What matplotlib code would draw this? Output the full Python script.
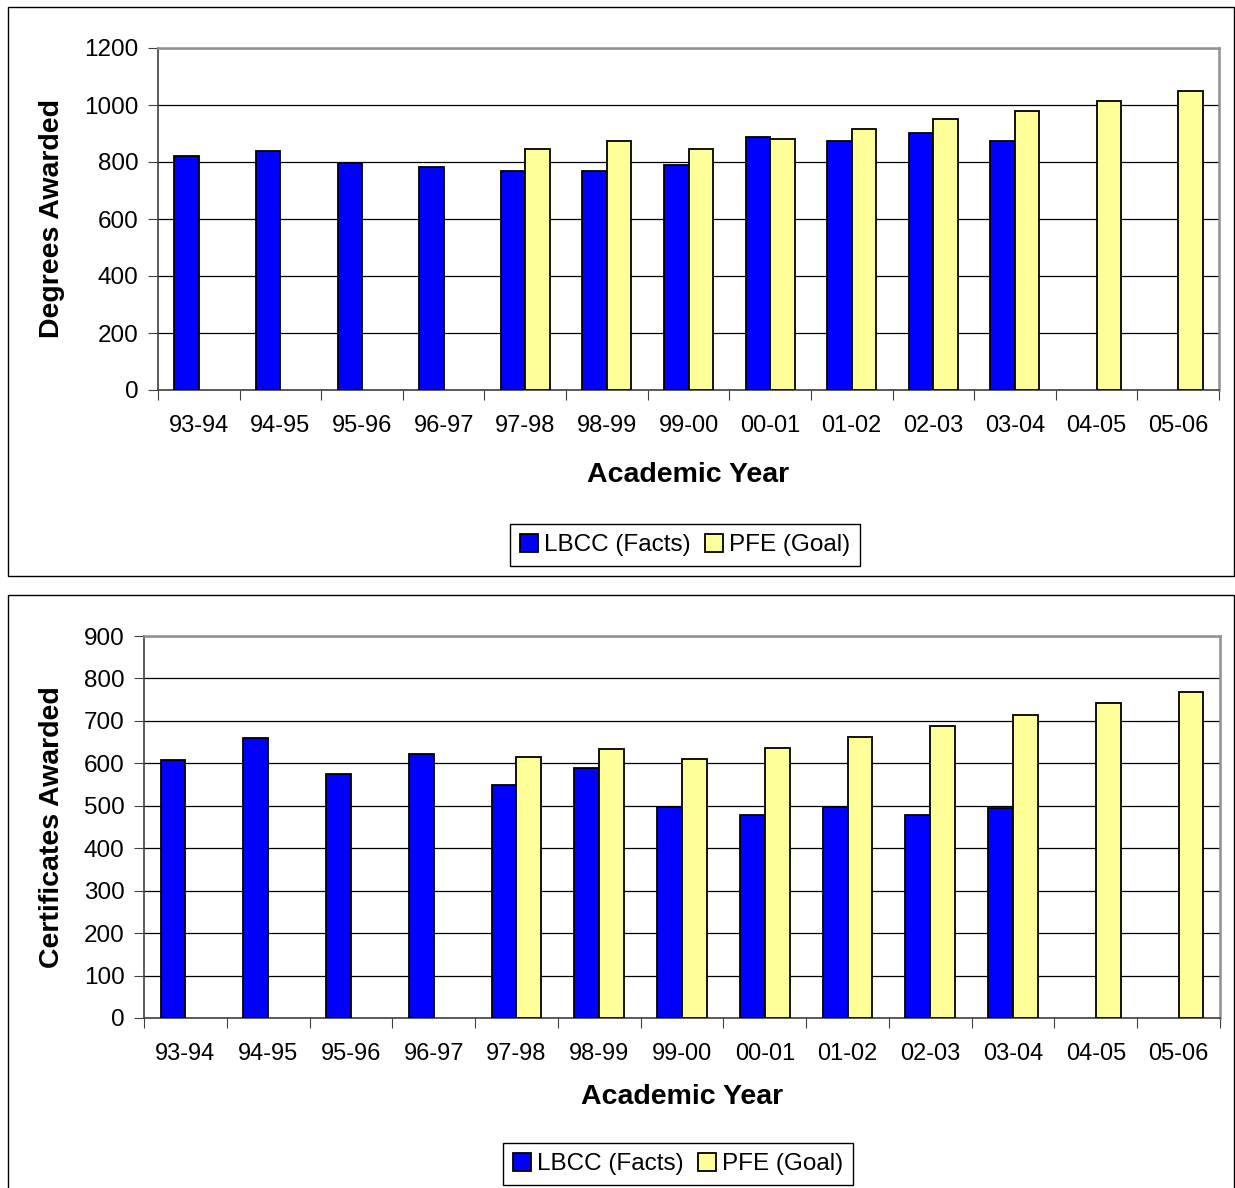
import numpy as np
import matplotlib.pyplot as plt
from matplotlib.patches import Rectangle

plt.rcParams['font.family'] = ['Liberation Sans', 'DejaVu Sans']

# data
years = ['93-94', '94-95', '95-96', '96-97', '97-98', '98-99', '99-00',
         '00-01', '01-02', '02-03', '03-04', '04-05', '05-06']
nan = np.nan
degrees_lbcc = [822, 838, 796, 783, 767, 767, 790, 886, 873, 901, 873, nan, nan]
degrees_pfe = [nan, nan, nan, nan, 845, 872, 845, 880, 917, 952, 980, 1013, 1048]
certs_lbcc = [609, 660, 576, 621, 550, 589, 497, 479, 498, 479, 494, nan, nan]
certs_pfe = [nan, nan, nan, nan, 614, 634, 611, 636, 662, 688, 713, 741, 768]

W, H = 1235, 1188
fig = plt.figure(figsize=(W / 100, H / 100), dpi=100)

# panel borders
fig.patches.append(Rectangle((8 / W, 1 - 576 / H), 1226 / W, 569 / H,
                             transform=fig.transFigure, fill=False,
                             edgecolor='black', linewidth=1.0))
fig.patches.append(Rectangle((8 / W, 1 - 1190 / H), 1226 / W, 595 / H,
                             transform=fig.transFigure, fill=False,
                             edgecolor='black', linewidth=1.0))


def draw(rect, lbcc, pfe, ymax, ystep, ylabel, xlab_y, ylab_x, leg_xy):
    ax = fig.add_axes(rect)
    x = np.arange(len(years))
    w = 0.3
    ax.bar(x - w / 2, lbcc, w, color='#0000FF', edgecolor='black',
           linewidth=1.3, label='LBCC (Facts)', zorder=3)
    ax.bar(x + w / 2, pfe, w, color='#FFFF99', edgecolor='black',
           linewidth=1.3, label='PFE (Goal)', zorder=3)

    ax.set_xlim(-0.5, len(years) - 0.5)
    ax.set_ylim(0, ymax)
    ax.set_yticks(np.arange(0, ymax + 1, ystep))
    ax.yaxis.grid(True, color='black', linewidth=0.9)
    ax.set_axisbelow(True)

    # x ticks at category boundaries, labels at centers
    ax.set_xticks(np.arange(-0.5, len(years), 1))
    ax.set_xticklabels([])
    ax.set_xticks(x, minor=True)
    ax.set_xticklabels(years, minor=True)
    ax.tick_params(axis='x', which='major', length=7, color='#404040', direction='out')
    ax.tick_params(axis='x', which='minor', length=0, pad=18, labelsize=17)
    ax.tick_params(axis='y', length=7, color='#404040', labelsize=17.5, pad=7)

    for s in ['top', 'right']:
        ax.spines[s].set_color('#909090')
        ax.spines[s].set_linewidth(1.8)
    for s in ['left', 'bottom']:
        ax.spines[s].set_color('#404040')
        ax.spines[s].set_linewidth(1.2)

    ax.set_xlabel('Academic Year', fontsize=20.5, fontweight='bold')
    ax.xaxis.set_label_coords(0.5, xlab_y)
    ax.xaxis.label.set_va('center')
    ax.set_ylabel(ylabel, fontsize=20.5, fontweight='bold')
    ax.yaxis.set_label_coords(ylab_x, 0.5)
    ax.yaxis.label.set_va('center')

    fig.legend(*ax.get_legend_handles_labels(), loc='center',
               bbox_to_anchor=leg_xy, bbox_transform=fig.transFigure,
               ncol=2, fontsize=17.5, frameon=True, fancybox=False,
               edgecolor='black', framealpha=1, handlelength=0.75,
               handleheight=0.75, handletextpad=0.25, columnspacing=0.6,
               borderpad=0.4, borderaxespad=0)
    return ax


draw([158 / W, 1 - 390 / H, 1061 / W, 342 / H], degrees_lbcc, degrees_pfe,
     1200, 200, 'Degrees Awarded', -0.2485, -0.10, (685 / W, 1 - 545 / H))
draw([144 / W, 1 - 1018 / H, 1076 / W, 382 / H], certs_lbcc, certs_pfe,
     900, 100, 'Certificates Awarded', -0.2068, -0.0855, (678 / W, 1 - 1164 / H))

fig.savefig('out.png', dpi=100)
